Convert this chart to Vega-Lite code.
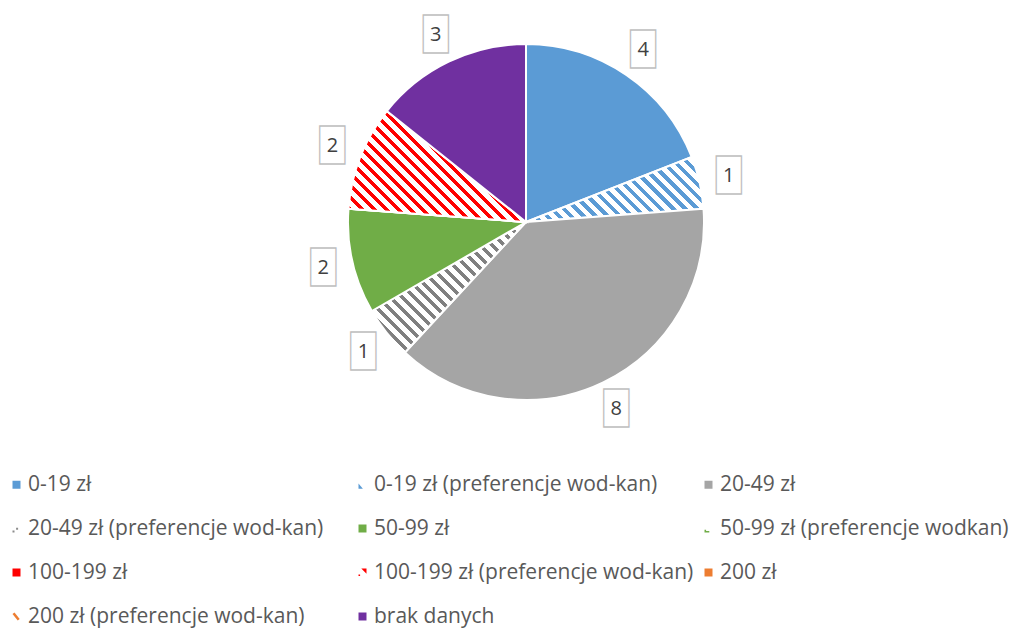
{
  "$schema": "https://vega.github.io/schema/vega-lite/v6.json",
  "width": 356,
  "height": 356,
  "autosize": {"type": "none"},
  "padding": {"left": 348, "top": 44, "right": 320, "bottom": 228},
  "background": "white",
  "config": {"view": {"stroke": null}, "font": "Open Sans"},
  "data": {
    "values": [
      {"idx": 1, "cat": "0-19 zł", "v": 4},
      {"idx": 2, "cat": "0-19 zł (preferencje wod-kan)", "v": 1},
      {"idx": 3, "cat": "20-49 zł", "v": 8},
      {"idx": 4, "cat": "20-49 zł (preferencje wod-kan)", "v": 1},
      {"idx": 5, "cat": "50-99 zł", "v": 2},
      {"idx": 6, "cat": "50-99 zł (preferencje wodkan)", "v": 0},
      {"idx": 7, "cat": "100-199  zł", "v": 0},
      {"idx": 8, "cat": "100-199 zł (preferencje wod-kan)", "v": 2},
      {"idx": 9, "cat": "200 zł", "v": 0},
      {"idx": 10, "cat": "200 zł (preferencje wod-kan)", "v": 0},
      {"idx": 11, "cat": "brak danych", "v": 3}
    ]
  },
  "layer": [
    {
      "mark": {"type": "arc", "stroke": "white", "strokeWidth": 2},
      "encoding": {
        "theta": {"field": "v", "type": "quantitative", "stack": true},
        "order": {"field": "idx", "type": "quantitative"},
        "fill": {
          "field": "cat",
          "type": "nominal",
          "legend": {
            "title": null, "orient": "none", "direction": "horizontal", "legendX": -342, "legendY": 430, "columns": 3, "gridAlign": "all",
            "labelFont": "Open Sans", "labelFontSize": 21, "labelColor": "#595959", "labelLimit": 500, "labelOffset": 1,
            "symbolSize": 64, "symbolOpacity": 1, "symbolStrokeWidth": 0, "rowPadding": 22, "columnPadding": 4
          },
          "scale": {
            "domain": ["0-19 zł", "0-19 zł (preferencje wod-kan)", "20-49 zł", "20-49 zł (preferencje wod-kan)", "50-99 zł", "50-99 zł (preferencje wodkan)", "100-199  zł", "100-199 zł (preferencje wod-kan)", "200 zł", "200 zł (preferencje wod-kan)", "brak danych"],
            "range": ["#5B9BD5", "#5B9BD5", "#A5A5A5", "#8C8C8C", "#70AD47", "#70AD47", "#FF0000", "#FF0000", "#ED7D31", "#ED7D31", "#7030A0"]
          },
          "condition": [
            {
              "test": "datum.cat === '0-19 zł (preferencje wod-kan)'",
              "value": {
                "gradient": "linear",
                "x1": -0.1024, "y1": 0.7206, "x2": 1.1024, "y2": 0.2794,
                "stops": [
                  {"offset": 0, "color": "#5B9BD5"}, {"offset": 0.0225, "color": "#5B9BD5"}, {"offset": 0.0225, "color": "#FFFFFF"}, {"offset": 0.05, "color": "#FFFFFF"},
                  {"offset": 0.05, "color": "#5B9BD5"}, {"offset": 0.0725, "color": "#5B9BD5"}, {"offset": 0.0725, "color": "#FFFFFF"}, {"offset": 0.1, "color": "#FFFFFF"},
                  {"offset": 0.1, "color": "#5B9BD5"}, {"offset": 0.1225, "color": "#5B9BD5"}, {"offset": 0.1225, "color": "#FFFFFF"}, {"offset": 0.15, "color": "#FFFFFF"},
                  {"offset": 0.15, "color": "#5B9BD5"}, {"offset": 0.1725, "color": "#5B9BD5"}, {"offset": 0.1725, "color": "#FFFFFF"}, {"offset": 0.2, "color": "#FFFFFF"},
                  {"offset": 0.2, "color": "#5B9BD5"}, {"offset": 0.2225, "color": "#5B9BD5"}, {"offset": 0.2225, "color": "#FFFFFF"}, {"offset": 0.25, "color": "#FFFFFF"},
                  {"offset": 0.25, "color": "#5B9BD5"}, {"offset": 0.2725, "color": "#5B9BD5"}, {"offset": 0.2725, "color": "#FFFFFF"}, {"offset": 0.3, "color": "#FFFFFF"},
                  {"offset": 0.3, "color": "#5B9BD5"}, {"offset": 0.3225, "color": "#5B9BD5"}, {"offset": 0.3225, "color": "#FFFFFF"}, {"offset": 0.35, "color": "#FFFFFF"},
                  {"offset": 0.35, "color": "#5B9BD5"}, {"offset": 0.3725, "color": "#5B9BD5"}, {"offset": 0.3725, "color": "#FFFFFF"}, {"offset": 0.4, "color": "#FFFFFF"},
                  {"offset": 0.4, "color": "#5B9BD5"}, {"offset": 0.4225, "color": "#5B9BD5"}, {"offset": 0.4225, "color": "#FFFFFF"}, {"offset": 0.45, "color": "#FFFFFF"},
                  {"offset": 0.45, "color": "#5B9BD5"}, {"offset": 0.4725, "color": "#5B9BD5"}, {"offset": 0.4725, "color": "#FFFFFF"}, {"offset": 0.5, "color": "#FFFFFF"},
                  {"offset": 0.5, "color": "#5B9BD5"}, {"offset": 0.5225, "color": "#5B9BD5"}, {"offset": 0.5225, "color": "#FFFFFF"}, {"offset": 0.55, "color": "#FFFFFF"},
                  {"offset": 0.55, "color": "#5B9BD5"}, {"offset": 0.5725, "color": "#5B9BD5"}, {"offset": 0.5725, "color": "#FFFFFF"}, {"offset": 0.6, "color": "#FFFFFF"},
                  {"offset": 0.6, "color": "#5B9BD5"}, {"offset": 0.6225, "color": "#5B9BD5"}, {"offset": 0.6225, "color": "#FFFFFF"}, {"offset": 0.65, "color": "#FFFFFF"},
                  {"offset": 0.65, "color": "#5B9BD5"}, {"offset": 0.6725, "color": "#5B9BD5"}, {"offset": 0.6725, "color": "#FFFFFF"}, {"offset": 0.7, "color": "#FFFFFF"},
                  {"offset": 0.7, "color": "#5B9BD5"}, {"offset": 0.7225, "color": "#5B9BD5"}, {"offset": 0.7225, "color": "#FFFFFF"}, {"offset": 0.75, "color": "#FFFFFF"},
                  {"offset": 0.75, "color": "#5B9BD5"}, {"offset": 0.7725, "color": "#5B9BD5"}, {"offset": 0.7725, "color": "#FFFFFF"}, {"offset": 0.8, "color": "#FFFFFF"},
                  {"offset": 0.8, "color": "#5B9BD5"}, {"offset": 0.8225, "color": "#5B9BD5"}, {"offset": 0.8225, "color": "#FFFFFF"}, {"offset": 0.85, "color": "#FFFFFF"},
                  {"offset": 0.85, "color": "#5B9BD5"}, {"offset": 0.8725, "color": "#5B9BD5"}, {"offset": 0.8725, "color": "#FFFFFF"}, {"offset": 0.9, "color": "#FFFFFF"},
                  {"offset": 0.9, "color": "#5B9BD5"}, {"offset": 0.9225, "color": "#5B9BD5"}, {"offset": 0.9225, "color": "#FFFFFF"}, {"offset": 0.95, "color": "#FFFFFF"},
                  {"offset": 0.95, "color": "#5B9BD5"}, {"offset": 0.9725, "color": "#5B9BD5"}, {"offset": 0.9725, "color": "#FFFFFF"}, {"offset": 1, "color": "#FFFFFF"}
                ]
              }
            },
            {
              "test": "datum.cat === '20-49 zł (preferencje wod-kan)'",
              "value": {
                "gradient": "linear",
                "x1": -0.0376, "y1": 0.9556, "x2": 1.0376, "y2": 0.0444,
                "stops": [
                  {"offset": 0, "color": "#808080"}, {"offset": 0.0175, "color": "#808080"}, {"offset": 0.0175, "color": "#FFFFFF"}, {"offset": 0.0417, "color": "#FFFFFF"},
                  {"offset": 0.0417, "color": "#808080"}, {"offset": 0.0592, "color": "#808080"}, {"offset": 0.0592, "color": "#FFFFFF"}, {"offset": 0.0833, "color": "#FFFFFF"},
                  {"offset": 0.0833, "color": "#808080"}, {"offset": 0.1008, "color": "#808080"}, {"offset": 0.1008, "color": "#FFFFFF"}, {"offset": 0.125, "color": "#FFFFFF"},
                  {"offset": 0.125, "color": "#808080"}, {"offset": 0.1425, "color": "#808080"}, {"offset": 0.1425, "color": "#FFFFFF"}, {"offset": 0.1667, "color": "#FFFFFF"},
                  {"offset": 0.1667, "color": "#808080"}, {"offset": 0.1842, "color": "#808080"}, {"offset": 0.1842, "color": "#FFFFFF"}, {"offset": 0.2083, "color": "#FFFFFF"},
                  {"offset": 0.2083, "color": "#808080"}, {"offset": 0.2258, "color": "#808080"}, {"offset": 0.2258, "color": "#FFFFFF"}, {"offset": 0.25, "color": "#FFFFFF"},
                  {"offset": 0.25, "color": "#808080"}, {"offset": 0.2675, "color": "#808080"}, {"offset": 0.2675, "color": "#FFFFFF"}, {"offset": 0.2917, "color": "#FFFFFF"},
                  {"offset": 0.2917, "color": "#808080"}, {"offset": 0.3092, "color": "#808080"}, {"offset": 0.3092, "color": "#FFFFFF"}, {"offset": 0.3333, "color": "#FFFFFF"},
                  {"offset": 0.3333, "color": "#808080"}, {"offset": 0.3508, "color": "#808080"}, {"offset": 0.3508, "color": "#FFFFFF"}, {"offset": 0.375, "color": "#FFFFFF"},
                  {"offset": 0.375, "color": "#808080"}, {"offset": 0.3925, "color": "#808080"}, {"offset": 0.3925, "color": "#FFFFFF"}, {"offset": 0.4167, "color": "#FFFFFF"},
                  {"offset": 0.4167, "color": "#808080"}, {"offset": 0.4342, "color": "#808080"}, {"offset": 0.4342, "color": "#FFFFFF"}, {"offset": 0.4583, "color": "#FFFFFF"},
                  {"offset": 0.4583, "color": "#808080"}, {"offset": 0.4758, "color": "#808080"}, {"offset": 0.4758, "color": "#FFFFFF"}, {"offset": 0.5, "color": "#FFFFFF"},
                  {"offset": 0.5, "color": "#808080"}, {"offset": 0.5175, "color": "#808080"}, {"offset": 0.5175, "color": "#FFFFFF"}, {"offset": 0.5417, "color": "#FFFFFF"},
                  {"offset": 0.5417, "color": "#808080"}, {"offset": 0.5592, "color": "#808080"}, {"offset": 0.5592, "color": "#FFFFFF"}, {"offset": 0.5833, "color": "#FFFFFF"},
                  {"offset": 0.5833, "color": "#808080"}, {"offset": 0.6008, "color": "#808080"}, {"offset": 0.6008, "color": "#FFFFFF"}, {"offset": 0.625, "color": "#FFFFFF"},
                  {"offset": 0.625, "color": "#808080"}, {"offset": 0.6425, "color": "#808080"}, {"offset": 0.6425, "color": "#FFFFFF"}, {"offset": 0.6667, "color": "#FFFFFF"},
                  {"offset": 0.6667, "color": "#808080"}, {"offset": 0.6842, "color": "#808080"}, {"offset": 0.6842, "color": "#FFFFFF"}, {"offset": 0.7083, "color": "#FFFFFF"},
                  {"offset": 0.7083, "color": "#808080"}, {"offset": 0.7258, "color": "#808080"}, {"offset": 0.7258, "color": "#FFFFFF"}, {"offset": 0.75, "color": "#FFFFFF"},
                  {"offset": 0.75, "color": "#808080"}, {"offset": 0.7675, "color": "#808080"}, {"offset": 0.7675, "color": "#FFFFFF"}, {"offset": 0.7917, "color": "#FFFFFF"},
                  {"offset": 0.7917, "color": "#808080"}, {"offset": 0.8092, "color": "#808080"}, {"offset": 0.8092, "color": "#FFFFFF"}, {"offset": 0.8333, "color": "#FFFFFF"},
                  {"offset": 0.8333, "color": "#808080"}, {"offset": 0.8508, "color": "#808080"}, {"offset": 0.8508, "color": "#FFFFFF"}, {"offset": 0.875, "color": "#FFFFFF"},
                  {"offset": 0.875, "color": "#808080"}, {"offset": 0.8925, "color": "#808080"}, {"offset": 0.8925, "color": "#FFFFFF"}, {"offset": 0.9167, "color": "#FFFFFF"},
                  {"offset": 0.9167, "color": "#808080"}, {"offset": 0.9342, "color": "#808080"}, {"offset": 0.9342, "color": "#FFFFFF"}, {"offset": 0.9583, "color": "#FFFFFF"},
                  {"offset": 0.9583, "color": "#808080"}, {"offset": 0.9758, "color": "#808080"}, {"offset": 0.9758, "color": "#FFFFFF"}, {"offset": 1, "color": "#FFFFFF"}
                ]
              }
            },
            {
              "test": "datum.cat === '100-199 zł (preferencje wod-kan)'",
              "value": {
                "gradient": "linear",
                "x1": -0.0842, "y1": 0.8654, "x2": 1.0842, "y2": 0.1346,
                "stops": [
                  {"offset": 0, "color": "#FF0000"}, {"offset": 0.0175, "color": "#FF0000"}, {"offset": 0.0175, "color": "#FFFFFF"}, {"offset": 0.0417, "color": "#FFFFFF"},
                  {"offset": 0.0417, "color": "#FF0000"}, {"offset": 0.0592, "color": "#FF0000"}, {"offset": 0.0592, "color": "#FFFFFF"}, {"offset": 0.0833, "color": "#FFFFFF"},
                  {"offset": 0.0833, "color": "#FF0000"}, {"offset": 0.1008, "color": "#FF0000"}, {"offset": 0.1008, "color": "#FFFFFF"}, {"offset": 0.125, "color": "#FFFFFF"},
                  {"offset": 0.125, "color": "#FF0000"}, {"offset": 0.1425, "color": "#FF0000"}, {"offset": 0.1425, "color": "#FFFFFF"}, {"offset": 0.1667, "color": "#FFFFFF"},
                  {"offset": 0.1667, "color": "#FF0000"}, {"offset": 0.1842, "color": "#FF0000"}, {"offset": 0.1842, "color": "#FFFFFF"}, {"offset": 0.2083, "color": "#FFFFFF"},
                  {"offset": 0.2083, "color": "#FF0000"}, {"offset": 0.2258, "color": "#FF0000"}, {"offset": 0.2258, "color": "#FFFFFF"}, {"offset": 0.25, "color": "#FFFFFF"},
                  {"offset": 0.25, "color": "#FF0000"}, {"offset": 0.2675, "color": "#FF0000"}, {"offset": 0.2675, "color": "#FFFFFF"}, {"offset": 0.2917, "color": "#FFFFFF"},
                  {"offset": 0.2917, "color": "#FF0000"}, {"offset": 0.3092, "color": "#FF0000"}, {"offset": 0.3092, "color": "#FFFFFF"}, {"offset": 0.3333, "color": "#FFFFFF"},
                  {"offset": 0.3333, "color": "#FF0000"}, {"offset": 0.3508, "color": "#FF0000"}, {"offset": 0.3508, "color": "#FFFFFF"}, {"offset": 0.375, "color": "#FFFFFF"},
                  {"offset": 0.375, "color": "#FF0000"}, {"offset": 0.3925, "color": "#FF0000"}, {"offset": 0.3925, "color": "#FFFFFF"}, {"offset": 0.4167, "color": "#FFFFFF"},
                  {"offset": 0.4167, "color": "#FF0000"}, {"offset": 0.4342, "color": "#FF0000"}, {"offset": 0.4342, "color": "#FFFFFF"}, {"offset": 0.4583, "color": "#FFFFFF"},
                  {"offset": 0.4583, "color": "#FF0000"}, {"offset": 0.4758, "color": "#FF0000"}, {"offset": 0.4758, "color": "#FFFFFF"}, {"offset": 0.5, "color": "#FFFFFF"},
                  {"offset": 0.5, "color": "#FF0000"}, {"offset": 0.5175, "color": "#FF0000"}, {"offset": 0.5175, "color": "#FFFFFF"}, {"offset": 0.5417, "color": "#FFFFFF"},
                  {"offset": 0.5417, "color": "#FF0000"}, {"offset": 0.5592, "color": "#FF0000"}, {"offset": 0.5592, "color": "#FFFFFF"}, {"offset": 0.5833, "color": "#FFFFFF"},
                  {"offset": 0.5833, "color": "#FF0000"}, {"offset": 0.6008, "color": "#FF0000"}, {"offset": 0.6008, "color": "#FFFFFF"}, {"offset": 0.625, "color": "#FFFFFF"},
                  {"offset": 0.625, "color": "#FF0000"}, {"offset": 0.6425, "color": "#FF0000"}, {"offset": 0.6425, "color": "#FFFFFF"}, {"offset": 0.6667, "color": "#FFFFFF"},
                  {"offset": 0.6667, "color": "#FF0000"}, {"offset": 0.6842, "color": "#FF0000"}, {"offset": 0.6842, "color": "#FFFFFF"}, {"offset": 0.7083, "color": "#FFFFFF"},
                  {"offset": 0.7083, "color": "#FF0000"}, {"offset": 0.7258, "color": "#FF0000"}, {"offset": 0.7258, "color": "#FFFFFF"}, {"offset": 0.75, "color": "#FFFFFF"},
                  {"offset": 0.75, "color": "#FF0000"}, {"offset": 0.7675, "color": "#FF0000"}, {"offset": 0.7675, "color": "#FFFFFF"}, {"offset": 0.7917, "color": "#FFFFFF"},
                  {"offset": 0.7917, "color": "#FF0000"}, {"offset": 0.8092, "color": "#FF0000"}, {"offset": 0.8092, "color": "#FFFFFF"}, {"offset": 0.8333, "color": "#FFFFFF"},
                  {"offset": 0.8333, "color": "#FF0000"}, {"offset": 0.8508, "color": "#FF0000"}, {"offset": 0.8508, "color": "#FFFFFF"}, {"offset": 0.875, "color": "#FFFFFF"},
                  {"offset": 0.875, "color": "#FF0000"}, {"offset": 0.8925, "color": "#FF0000"}, {"offset": 0.8925, "color": "#FFFFFF"}, {"offset": 0.9167, "color": "#FFFFFF"},
                  {"offset": 0.9167, "color": "#FF0000"}, {"offset": 0.9342, "color": "#FF0000"}, {"offset": 0.9342, "color": "#FFFFFF"}, {"offset": 0.9583, "color": "#FFFFFF"},
                  {"offset": 0.9583, "color": "#FF0000"}, {"offset": 0.9758, "color": "#FF0000"}, {"offset": 0.9758, "color": "#FFFFFF"}, {"offset": 1, "color": "#FFFFFF"}
                ]
              }
            }
          ]
        }
      }
    },
    {
      "transform": [{"filter": "datum.v > 0"}],
      "mark": {"type": "text", "radius": 208, "font": "DejaVu Sans", "fontSize": 32, "fill": "white", "stroke": "#BFBFBF", "strokeWidth": 1.3, "baseline": "middle", "align": "center"},
      "encoding": {
        "theta": {"field": "v", "type": "quantitative", "stack": true},
        "order": {"field": "idx", "type": "quantitative"},
        "text": {"value": "█"}
      }
    },
    {
      "transform": [{"filter": "datum.v > 0"}],
      "mark": {"type": "text", "radius": 208, "font": "Open Sans", "fontSize": 20, "color": "#404040", "baseline": "middle", "align": "center"},
      "encoding": {
        "theta": {"field": "v", "type": "quantitative", "stack": true},
        "order": {"field": "idx", "type": "quantitative"},
        "text": {"field": "v", "type": "quantitative"}
      }
    },
    {
      "mark": {"type": "point", "filled": true, "size": 0, "opacity": 0},
      "encoding": {
        "fill": {
          "field": "cat",
          "type": "nominal",
          "scale": {
            "domain": ["0-19 zł", "0-19 zł (preferencje wod-kan)", "20-49 zł", "20-49 zł (preferencje wod-kan)", "50-99 zł", "50-99 zł (preferencje wodkan)", "100-199  zł", "100-199 zł (preferencje wod-kan)", "200 zł", "200 zł (preferencje wod-kan)", "brak danych"],
            "range": ["#5B9BD5", "#5B9BD5", "#A5A5A5", "#8C8C8C", "#70AD47", "#70AD47", "#FF0000", "#FF0000", "#ED7D31", "#ED7D31", "#7030A0"]
          },
          "legend": {
            "title": null, "orient": "none", "direction": "horizontal", "legendX": -342, "legendY": 430, "columns": 3, "gridAlign": "all",
            "labelFont": "Open Sans", "labelFontSize": 21, "labelColor": "#595959", "labelLimit": 500, "labelOffset": 1,
            "symbolSize": 64, "symbolOpacity": 1, "symbolStrokeWidth": 0, "rowPadding": 22, "columnPadding": 4
          }
        },
        "shape": {
          "field": "cat",
          "type": "nominal",
          "scale": {
            "domain": ["0-19 zł", "0-19 zł (preferencje wod-kan)", "20-49 zł", "20-49 zł (preferencje wod-kan)", "50-99 zł", "50-99 zł (preferencje wodkan)", "100-199  zł", "100-199 zł (preferencje wod-kan)", "200 zł", "200 zł (preferencje wod-kan)", "brak danych"],
            "range": ["square", "M-1,-0.3L0.1,1L-1,1Z", "square", "M-1,0.5H-0.5V1H-1Z M-0.1,-0.2H0.4V0.3H-0.1Z", "square", "M-1,0.3H-0.6V0.6H0.2V1H-1Z", "square", "M-0.3,-1H1V0.3Z M-1,0.5H-0.6V0.9H-1Z", "square", "M-1,-0.6L-0.5,-1L0.8,0.6L0.3,1Z", "square"]
          },
          "legend": {
            "title": null, "orient": "none", "direction": "horizontal", "legendX": -342, "legendY": 430, "columns": 3, "gridAlign": "all",
            "labelFont": "Open Sans", "labelFontSize": 21, "labelColor": "#595959", "labelLimit": 500, "labelOffset": 1,
            "symbolSize": 64, "symbolOpacity": 1, "symbolStrokeWidth": 0, "rowPadding": 22, "columnPadding": 4
          }
        }
      }
    }
  ]
}
